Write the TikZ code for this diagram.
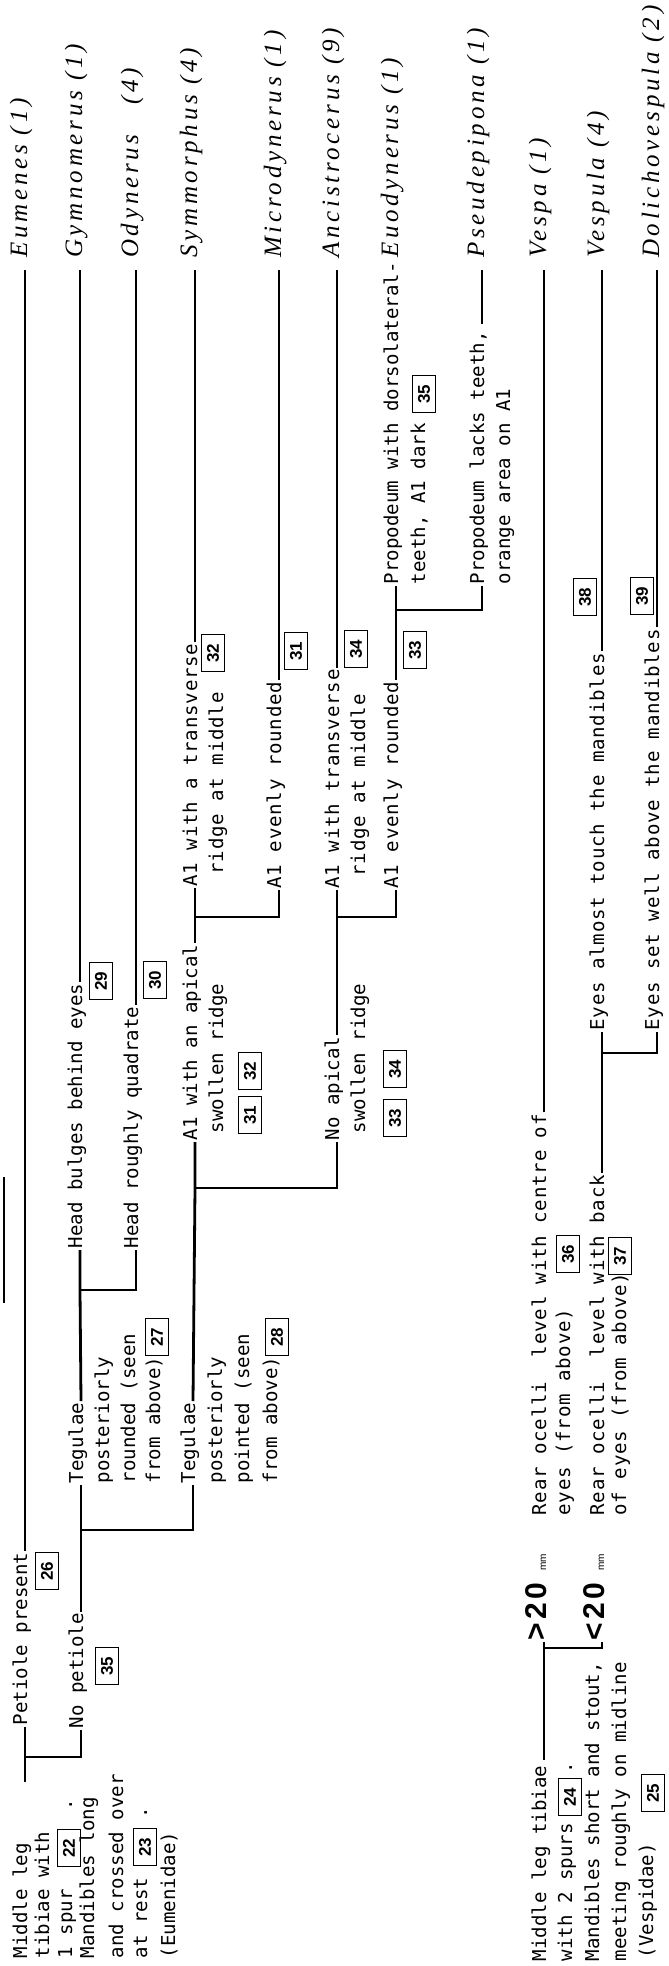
\documentclass[tikz,border=0pt]{standalone}
\usepackage{fontspec}
\setmonofont{DejaVu Sans Mono}
\newfontfamily\gfont{Liberation Serif}[LetterSpace=15]
\newfontfamily\sfnt{Liberation Sans}
\newfontfamily\wtt{DejaVu Sans Mono}[LetterSpace=4.2]
\begin{document}
\begin{tikzpicture}[x=1pt,y=-1pt,
  ln/.style={line width=2.8pt, line join=miter},
  txt/.style={rotate=90, anchor=mid west, inner xsep=1.5pt, inner ysep=0pt, font=\ttfamily\fontsize{19.1}{19.1}\selectfont},
  wtxt/.style={txt, font=\wtt\fontsize{19.1}{19.1}\selectfont},
  genus/.style={rotate=90, anchor=mid west, inner sep=0pt, font=\gfont\itshape\fontsize{25}{25}\selectfont},
  bx/.style={draw, line width=1.3pt, rotate=90, minimum width=37pt, minimum height=23pt, inner sep=0pt, font=\sfnt\bfseries\fontsize{17}{17}\selectfont},
  cmp/.style={rotate=90, anchor=mid west, inner xsep=1pt, inner ysep=0pt, font=\sfnt\bfseries\fontsize{30}{30}\selectfont},
  tolab/.style={shorten >=12pt}]
\path[fill=white] (0,0) rectangle (669,1966);
\useasboundingbox (0,0) rectangle (669,1966);

% ---------- genus labels ----------
\node[genus] (eum) at (25,258) {Eumenes (1)};
\node[genus] (gym) at (80,258) {Gymnomerus (1)};
\node[genus] (ody) at (136,258) {Odynerus\ \ \ (4)};
\node[genus] (sym) at (195,258) {Symmorphus (4)};
\node[genus] (mic) at (279,258) {Microdynerus (1)};
\node[genus] (anc) at (337,258) {Ancistrocerus (9)};
\node[genus] (euo) at (396,258) {Euodynerus (1)};
\node[genus] (pse) at (482,258) {Pseudepipona (1)};
\node[genus] (ves) at (544,258) {Vespa (1)};
\node[genus] (vsp) at (602,258) {Vespula (4)};
\node[genus] (dol) at (657,258) {Dolichovespula (2)};

% ---------- Eumenidae couplet ----------
\node[txt] (e1) at (25,1960) {Middle leg};
\node[txt] (e2) at (47,1960) {tibiae with};
\node[txt] (e3) at (70,1960) {1 spur};
\node[bx]  (b22) at (69,1848) {22};
\node[txt] (e3d) at (70,1812) {.};
\node[txt] (e4) at (92,1960) {Mandibles long};
\node[txt] (e5) at (121,1960) {and crossed over};
\node[txt] (e6) at (145,1960) {at rest};
\node[bx]  (b23) at (145,1847) {23};
\node[txt] (e6d) at (145,1820) {.};
\node[txt] (e7) at (173,1960) {(Eumenidae)};

\coordinate (eStub) at (25,1782);
\coordinate (eA) at (25,1757);
\coordinate (eB) at (81,1757);
\node[txt] (pet) at (25,1727) {Petiole present};
\node[bx]  (b26) at (47,1571) {26};
\node[txt] (nopet) at (81,1730) {No petiole};
\node[bx]  (b35a) at (107,1666) {35};
\draw[ln] (eStub) -- (eA) -- (pet.mid west);
\draw[ln] (eA) -- (eB) -- (nopet.mid west);
\draw[ln,tolab] (pet.mid east) -- (eum.mid west);

% ---------- Tegulae ----------
\coordinate (tA) at (81,1530);
\coordinate (tB) at (193,1530);
\node[txt] (teg1) at (81,1485) {Tegulae};
\node[txt] (teg1b) at (107,1485) {posteriorly};
\node[txt] (teg1c) at (133,1485) {rounded (seen};
\node[txt] (teg1d) at (158,1485) {from above)};
\node[bx]  (b27) at (157,1337) {27};
\node[txt] (teg2) at (193,1485) {Tegulae};
\node[txt] (teg2b) at (220,1485) {posteriorly};
\node[txt] (teg2c) at (247,1485) {pointed (seen};
\node[txt] (teg2d) at (275,1485) {from above)};
\node[bx]  (b28) at (277,1337) {28};
\draw[ln] (nopet.mid east) -- (tA) -- (teg1.mid west);
\draw[ln] (tA) -- (tB) -- (teg2.mid west);

% ---------- Head ----------
\coordinate (hA) at (80,1290);
\coordinate (hB) at (136,1290);
\node[txt] (hb) at (80,1250) {Head bulges behind eyes};
\node[bx]  (b29) at (101,981) {29};
\node[txt] (hq) at (136,1250) {Head roughly quadrate};
\node[bx]  (b30) at (155,980) {30};
\draw[ln] (teg1.mid east) -- (hA) -- (hb.mid west);
\draw[ln] (hA) -- (hB) -- (hq.mid west);
\draw[ln,tolab] (hb.mid east) -- (gym.mid west);
\draw[ln,tolab] (hq.mid east) -- (ody.mid west);

% ---------- apical ridge ----------
\coordinate (aA) at (195,1188);
\coordinate (aB) at (337,1188);
\node[txt] (ap) at (195,1142) {A1 with an apical};
\node[txt] (ap2) at (221,1135) {swollen ridge};
\node[bx]  (b31a) at (250,1115) {31};
\node[bx]  (b32a) at (250,1071) {32};
\node[txt] (nap) at (337,1142) {No apical};
\node[txt] (nap2) at (363,1135) {swollen ridge};
\node[bx]  (b33a) at (395,1118) {33};
\node[bx]  (b34a) at (395,1069) {34};
\draw[ln] (teg2.mid east) -- (aA) -- (ap.mid west);
\draw[ln] (aA) -- (aB) -- (nap.mid west);

% ---------- A1 transverse / evenly rounded ----------
\coordinate (sA) at (195,917);
\coordinate (sB) at (279,917);
\node[wtxt] (tr1) at (195,888) {A1 with a transverse};
\node[wtxt] (tr1b) at (221,876) {ridge at middle};
\node[bx]  (b32b) at (213,653) {32};
\node[wtxt] (ev1) at (279,890) {A1 evenly rounded};
\node[bx]  (b31b) at (296,651) {31};
\draw[ln] (ap.mid east) -- (sA) -- (tr1.mid west);
\draw[ln] (sA) -- (sB) -- (ev1.mid west);
\draw[ln,tolab] (tr1.mid east) -- (sym.mid west);
\draw[ln,tolab] (ev1.mid east) -- (mic.mid west);

\coordinate (nA) at (337,917);
\coordinate (nB) at (396,917);
\node[wtxt] (tr2) at (337,890) {A1 with transverse};
\node[wtxt] (tr2b) at (363,878) {ridge at middle};
\node[bx]  (b34b) at (356,649) {34};
\node[wtxt] (ev2) at (396,890) {A1 evenly rounded};
\node[bx]  (b33b) at (415,650) {33};
\draw[ln] (nap.mid east) -- (nA) -- (tr2.mid west);
\draw[ln] (nA) -- (nB) -- (ev2.mid west);
\draw[ln,tolab] (tr2.mid east) -- (anc.mid west);

% ---------- Propodeum ----------
\coordinate (pA) at (396,610);
\coordinate (pB) at (482,610);
\node[txt] (pw) at (396,586) {Propodeum with dorsolateral-};
\node[txt] (pw2) at (423,586) {teeth, A1 dark};
\node[bx]  (b35b) at (424,394) {35};
\node[txt] (pl) at (482,586) {Propodeum lacks teeth,};
\node[txt] (pl2) at (508,586) {orange area on A1};
\draw[ln] (ev2.mid east) -- (pA) -- (pw.mid west);
\draw[ln] (pA) -- (pB) -- (pl.mid west);
\draw[ln,tolab,shorten <=6pt] (pl.mid east) -- (pse.mid west);

% ---------- Vespidae couplet ----------
\node[txt] (v1) at (544,1963) {Middle leg tibiae};
\node[txt] (v2) at (570,1963) {with 2 spurs};
\node[bx]  (b24) at (570,1797) {24};
\node[txt] (v2d) at (570,1775) {.};
\node[txt] (v3) at (597,1963) {Mandibles short and stout,};
\node[txt] (v4) at (624,1963) {meeting roughly on midline};
\node[txt] (v5) at (651,1960) {(Vespidae)};
\node[bx]  (b25) at (653,1793) {25};

\coordinate (vA) at (544,1648);
\coordinate (vB) at (602,1648);
\node[cmp] (gt) at (544,1642) {>\kern4pt 2\kern3pt 0\kern12pt{\mdseries\fontsize{10}{10}\selectfont mm}};
\node[cmp] (lt) at (602,1642) {<\kern4pt 2\kern3pt 0\kern12pt{\mdseries\fontsize{10}{10}\selectfont mm}};
\draw[ln,shorten <=4pt] (v1.mid east) -- (vA) -- (gt.mid west);
\draw[ln] (vA) -- (vB) -- (lt.mid west);

% ---------- Rear ocelli ----------
\node[wtxt] (ro1) at (544,1517) {Rear ocelli\ \ level with centre of};
\node[wtxt] (ro1b) at (568,1517) {eyes (from above)};
\node[bx]  (b36) at (568,1254) {36};
\node[wtxt] (ro2) at (602,1517) {Rear ocelli\ \ level with back};
\node[wtxt] (ro2b) at (624,1517) {of eyes (from above)};
\node[bx]  (b37) at (620,1256) {37};
\draw[ln,tolab] (ro1.mid east) -- (ves.mid west);

% ---------- Eyes ----------
\coordinate (yA) at (602,1053);
\coordinate (yB) at (657,1053);
\node[wtxt] (ey1) at (602,1032) {Eyes almost touch the mandibles};
\node[bx]  (b38) at (585,597) {38};
\node[wtxt] (ey2) at (657,1032) {Eyes set well above the mandibles};
\node[bx]  (b39) at (642,596) {39};
\draw[ln] (ro2.mid east) -- (yA) -- (ey1.mid west);
\draw[ln] (yA) -- (yB) -- (ey2.mid west);
\draw[ln,tolab] (ey1.mid east) -- (vsp.mid west);
\draw[ln,tolab] (ey2.mid east) -- (dol.mid west);

% ---------- stray mark ----------
\coordinate (sm1) at (4,1177);
\coordinate (sm2) at (4,1303);
\draw[line width=2pt] (sm1) -- (sm2);
\end{tikzpicture}
\end{document}
